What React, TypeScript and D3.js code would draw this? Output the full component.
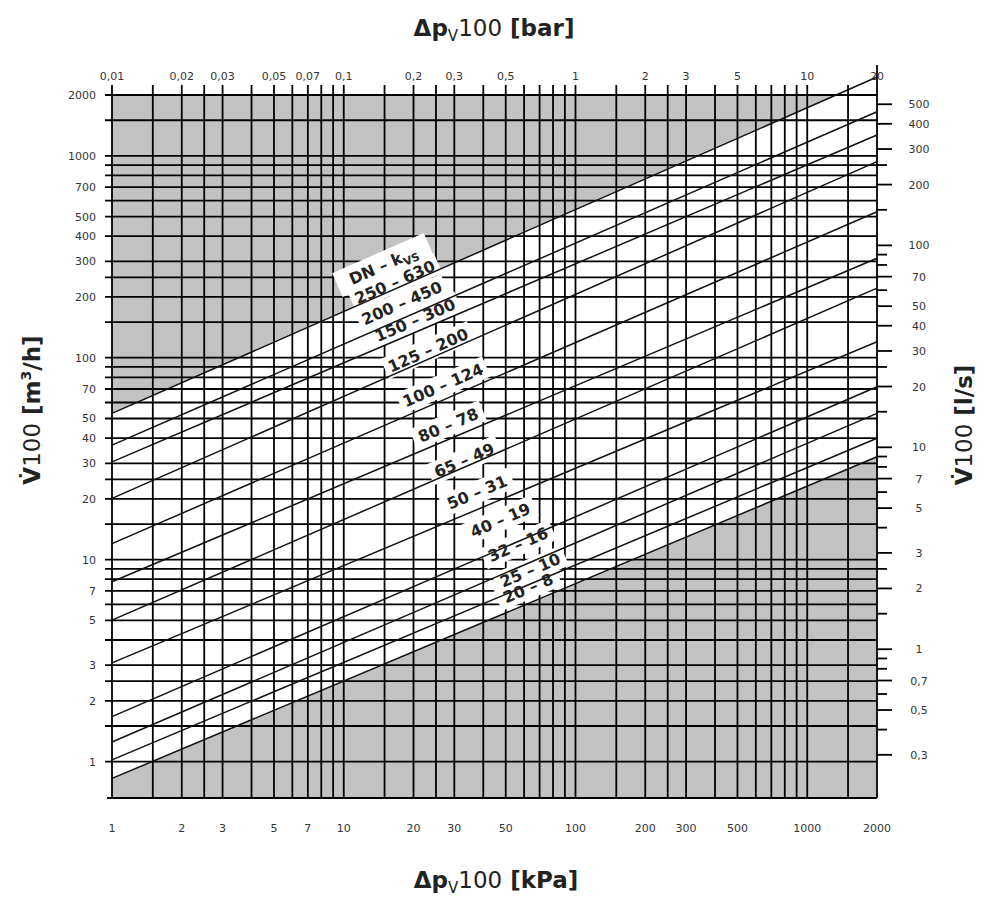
import React from 'react';
import * as d3 from 'd3';

// axis labels
const kpaLabels = [1, 2, 3, 5, 7, 10, 20, 30, 50, 100, 200, 300, 500, 1000, 2000];
const barLabels = [0.01, 0.02, 0.03, 0.05, 0.07, 0.1, 0.2, 0.3, 0.5, 1, 2, 3, 5, 10, 20];
const flowLabels = [2000, 1000, 700, 500, 400, 300, 200, 100, 70, 50, 40, 30, 20, 10, 7, 5, 3, 2, 1];
const lsLabels = [500, 400, 300, 200, 100, 70, 50, 40, 30, 20, 10, 7, 5, 3, 2, 1, 0.7, 0.5, 0.3];
const gridSteps = [1, 1.5, 2, 2.5, 3, 4, 5, 6, 7, 8, 9];
const decades = [0.1, 1, 10, 100, 1000];

// valve lines: DN - kvs, flow (m3/h) read at 1 kPa and at 2000 kPa
const dnValues = ['250', '200', '150', '125', '100', '80', '65', '50', '40', '32', '25', '20'];
const kvsValues = [630, 450, 300, 200, 124, 78, 49, 31, 19, 16, 10, 8];
const flowStart = [53, 36.9, 30.5, 20.1, 12, 7.77, 5.02, 3.08, 1.67, 1.25, 1.02, 0.825];
const flowEnd = [2455, 1653, 1267, 935, 528, 311, 221, 120, 71.8, 53, 39.9, 32.3];
// where each label sits (kPa, m3/h)
const labelKpa = [16.6, 17.8, 20.3, 23.1, 26.8, 28.2, 33.1, 37.6, 47.3, 56.5, 63.7, 62.4];
const labelFlow = [237, 186.6, 153.7, 109.1, 73.2, 46.4, 31.1, 21.6, 15.7, 11.9, 8.88, 7.23];
const headKpa = 14.8;
const headFlow = 287.7;

const fmt = (v: number) => String(v).replace('.', ',');

const App = () => {
  const width = 988;
  const height = 900;
  const left = 112, right = 877, top = 95, bottom = 798;

  const x = d3.scaleLog().domain([1, 2000]).range([left, right]);
  const xBar = d3.scaleLog().domain([0.01, 20]).range([left, right]);
  const y = d3.scaleLog().domain([0.66, 2000]).range([bottom, top]);
  const yLs = d3.scaleLog().domain([0.66 / 3.6, 2000 / 3.6]).range([bottom, top]);

  const gridVals = (lo: number, hi: number) => {
    const out: number[] = [];
    decades.forEach(d => gridSteps.forEach(s => {
      const v = +(d * s).toPrecision(6);
      if (v >= lo && v <= hi) out.push(v);
    }));
    return out;
  };
  const xGrid = gridVals(1, 2000);
  const yGrid = gridVals(1, 2000);
  const lsTicks = gridVals(0.3, 500);

  const lineGen = d3.line<[number, number]>().x(d => x(d[0])).y(d => y(d[1]));
  const lines = flowStart.map((f, i) => [[1, f], [2000, flowEnd[i]]] as [number, number][]);

  const angle = (i: number) =>
    Math.atan2(y(flowEnd[i]) - y(flowStart[i]), x(2000) - x(1)) * 180 / Math.PI;

  const top1 = lines[0];
  const topGray = `M${x(1)},${top} L${lineGen(top1)!.slice(1)} L${x(2000)},${top} Z`;
  const low = lines[lines.length - 1];
  const lowGray = `M${lineGen(low)!.slice(1)} L${x(2000)},${bottom} L${x(1)},${bottom} Z`;

  const labelFont = 16;
  const labelTexts = dnValues.map((d, i) => `${d} – ${kvsValues[i]}`);

  const tickFont = { fontFamily: 'DejaVu Sans', fontSize: 11, fill: '#333' };

  return (
    <svg width={width} height={height} style={{ position: 'absolute', left: 0, top: 0, background: '#fff' }}>
      <defs>
        <clipPath id="plotClip">
          <rect x={left} y={top} width={right - left} height={bottom - top} />
        </clipPath>
      </defs>
      <rect width={width} height={height} fill="#fff" />

      {/* gray zones */}
      <g clipPath="url(#plotClip)" fill="#c2c2c2">
        <path d={topGray} />
        <path d={lowGray} />
      </g>

      {/* grid */}
      <g stroke="#000" strokeWidth={1.8}>
        {xGrid.map(v => (
          <line key={'vx' + v} x1={x(v)} x2={x(v)} y1={v === 2000 ? top - 30 : top - 10} y2={bottom} />
        ))}
        {yGrid.map(v => (
          <line key={'hy' + v} x1={left - 7} x2={right} y1={y(v)} y2={y(v)} />
        ))}
        <line x1={left - 5} x2={right} y1={bottom} y2={bottom} />
        {lsTicks.map(v => (
          <line key={'ls' + v} x1={right} x2={lsLabels.includes(v) ? right + 15 : right + 10} y1={yLs(v)} y2={yLs(v)} />
        ))}
      </g>

      {/* label backgrounds */}
      <g fill="#fff">
        {labelTexts.map((t, i) => {
          const w = t.length * 9.6 + 8;
          return (
            <rect key={'bg' + i} x={-w / 2} y={-11} width={w} height={22}
              transform={`translate(${x(labelKpa[i])},${y(labelFlow[i])}) rotate(${angle(i)})`} />
          );
        })}
        <rect x={-50} y={-13} width={100} height={26}
          transform={`translate(${x(headKpa)},${y(headFlow)}) rotate(${angle(0)})`} />
      </g>

      {/* valve lines */}
      <g fill="none" stroke="#111" strokeWidth={1.5}>
        {lines.map((l, i) => <path key={'l' + i} d={lineGen(l)!} />)}
      </g>

      {/* valve labels */}
      <g fontFamily="DejaVu Sans" fontWeight="bold" fontSize={labelFont} fill="#222" textAnchor="middle">
        {labelTexts.map((t, i) => (
          <text key={'t' + i} dy="0.36em"
            transform={`translate(${x(labelKpa[i])},${y(labelFlow[i])}) rotate(${angle(i)})`}>{t}</text>
        ))}
        <text dy="0.36em" transform={`translate(${x(headKpa)},${y(headFlow)}) rotate(${angle(0)})`}>
          DN – k<tspan fontSize={11} dy={4}>VS</tspan>
        </text>
      </g>

      {/* tick labels */}
      <g {...tickFont} textAnchor="middle">
        {barLabels.map(v => <text key={'b' + v} x={xBar(v)} y={80}>{fmt(v)}</text>)}
        {kpaLabels.map(v => <text key={'k' + v} x={x(v)} y={832}>{fmt(v)}</text>)}
        {lsLabels.map(v => <text key={'r' + v} x={919} y={yLs(v) + 4}>{fmt(v)}</text>)}
      </g>
      <g {...tickFont} textAnchor="end">
        {flowLabels.map(v => <text key={'f' + v} x={96} y={y(v) + 4}>{fmt(v)}</text>)}
      </g>

      {/* axis titles */}
      <g fontFamily="DejaVu Sans" fontSize={23} fill="#222">
        <text x={494} y={36} textAnchor="middle">
          <tspan fontWeight="bold">Δp</tspan><tspan fontSize={15} dy={5}>V</tspan><tspan dy={-5}>100</tspan><tspan fontWeight="bold"> [bar]</tspan>
        </text>
        <text x={496} y={888} textAnchor="middle">
          <tspan fontWeight="bold">Δp</tspan><tspan fontSize={15} dy={5}>V</tspan><tspan dy={-5}>100</tspan><tspan fontWeight="bold"> [kPa]</tspan>
        </text>
        <text transform="translate(40,410) rotate(-90)" textAnchor="middle">
          <tspan fontWeight="bold">V̇</tspan><tspan>100</tspan><tspan fontWeight="bold"> [m</tspan><tspan fontWeight="bold" fontSize={14} dy={-9}>3</tspan><tspan fontWeight="bold" dy={9}>/h]</tspan>
        </text>
        <text transform="translate(972,425) rotate(-90)" textAnchor="middle">
          <tspan fontWeight="bold">V̇</tspan><tspan>100</tspan><tspan fontWeight="bold"> [l/s]</tspan>
        </text>
      </g>
    </svg>
  );
};

export default App;
